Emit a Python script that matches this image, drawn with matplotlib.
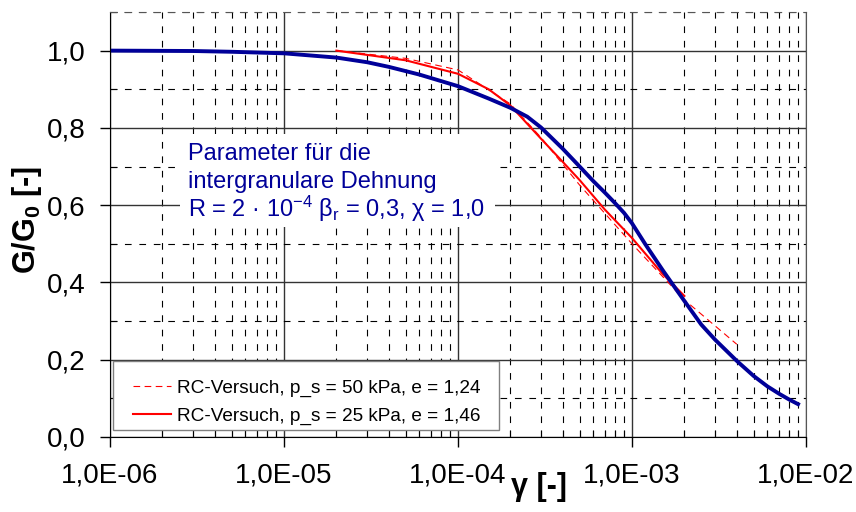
import numpy as np
import matplotlib.pyplot as plt
from matplotlib.patches import Rectangle
from matplotlib.ticker import LogLocator, MultipleLocator, NullFormatter, FuncFormatter

plt.rcParams.update({
    "font.family": ["Liberation Sans", "DejaVu Sans"],
    "mathtext.fontset": "custom",
    "mathtext.rm": "Liberation Sans",
    "mathtext.it": "Liberation Sans:italic",
    "mathtext.bf": "Liberation Sans:bold",
})

# Hypoplastic model with intergranular strain (blue)
gamma_model = [1e-6, 3e-6, 5e-6, 1e-5, 2e-5, 3e-5, 4e-5, 6e-5, 1e-4, 1.5e-4,
               2e-4, 2.5e-4, 3e-4, 4e-4, 5e-4, 6e-4, 7e-4, 8e-4, 9e-4, 1e-3,
               1.2e-3, 1.5e-3, 1.75e-3, 2e-3, 2.5e-3, 3e-3, 4e-3, 5e-3, 6e-3,
               7e-3, 8e-3, 9e-3]
g_model = [1.0, 0.999, 0.997, 0.993, 0.982, 0.970, 0.958, 0.938, 0.908, 0.876,
           0.852, 0.829, 0.801, 0.746, 0.700, 0.662, 0.632, 0.605, 0.580, 0.553,
           0.497, 0.432, 0.389, 0.352, 0.291, 0.252, 0.197, 0.158, 0.131,
           0.112, 0.097, 0.085]

# RC tests
gamma_rc50 = [2e-5, 5e-5, 1e-4, 2e-4, 3e-4, 5e-4, 1e-3, 2e-3, 4e-3]
g_rc50 = [1.0, 0.980, 0.950, 0.862, 0.775, 0.652, 0.500, 0.355, 0.240]

gamma_rc25 = [2e-5, 5e-5, 1e-4, 1.5e-4, 2e-4, 3e-4, 4e-4, 5e-4, 7e-4, 1e-3, 1.5e-3, 2e-3]
g_rc25 = [1.0, 0.975, 0.940, 0.900, 0.858, 0.772, 0.712, 0.665, 0.588, 0.515, 0.422, 0.365]

label_rc50 = "RC-Versuch, p_s = 50 kPa, e = 1,24"
label_rc25 = "RC-Versuch, p_s = 25 kPa, e = 1,46"
param_lines = ["Parameter für die",
               "intergranulare Dehnung",
               r"R = 2 · 10$\mathregular{^{-4}}$ β$\mathregular{_r}$ = 0,3, χ = 1,0"]

navy = "#000099"
dash = (0, (6, 7))

fig = plt.figure(figsize=(8.56, 5.12), dpi=100)
ax = fig.add_axes([0.1285, 0.1465, 0.8131, 0.8301])
ax.set_xscale("log")
ax.set_xlim(1e-6, 1e-2)
ax.set_ylim(0, 1.1)

ax.xaxis.set_major_locator(LogLocator(base=10, numticks=10))
ax.xaxis.set_minor_locator(LogLocator(base=10, subs=np.arange(2, 10), numticks=50))
ax.xaxis.set_minor_formatter(NullFormatter())
ax.xaxis.set_major_formatter(FuncFormatter(lambda v, p: f"{v:.1E}".replace(".", ",")))
ax.yaxis.set_major_locator(MultipleLocator(0.2))
ax.yaxis.set_minor_locator(MultipleLocator(0.1))
ax.yaxis.set_major_formatter(FuncFormatter(lambda v, p: f"{v:.1f}".replace(".", ",")))

ax.set_axisbelow(True)
ax.grid(which="major", color="#333333", lw=1.0, ls="-")
ax.grid(which="minor", color="black", lw=0.8, ls=dash)

ax.spines["top"].set_linestyle(dash)
ax.spines["top"].set_color("#555555")
ax.spines["right"].set_color("#555555")

ax.tick_params(which="major", direction="out", length=7, width=1, labelsize=20)
ax.tick_params(axis="y", which="major", pad=10.5)
ax.tick_params(axis="x", which="major", pad=11.5)
ax.tick_params(which="minor", direction="in", length=5, width=0.8)

# white box behind the parameter note
ax.add_patch(Rectangle((0.1006, 0.4941), 0.4526, 0.2188, transform=ax.transAxes,
                       facecolor="white", edgecolor="none", zorder=1))
for i, line in enumerate(param_lines):
    ax.text(0.112, 0.6518 - i * 0.0671, line, transform=ax.transAxes, color=navy,
            fontsize=17, va="baseline", ha="left", zorder=3)

ax.plot(gamma_rc50, g_rc50, color="red", lw=0.8, ls=(0, (6, 4)), label=label_rc50, zorder=2)
ax.plot(gamma_rc25, g_rc25, color="red", lw=1.5, label=label_rc25, zorder=2)
ax.plot(gamma_model, g_model, color=navy, lw=2.8, zorder=2.5)

# legend frame drawn separately so it can be wider than the entries
ax.add_patch(Rectangle((0.0043, 0.0165), 0.5546, 0.1624, transform=ax.transAxes,
                       facecolor="white", edgecolor="#808080", lw=1.0, zorder=3))
leg = ax.legend(loc="lower left", bbox_to_anchor=(0.033, 0.028), fontsize=13.7,
                frameon=False, handlelength=2.0, handletextpad=0.3,
                borderpad=0.0, borderaxespad=0.0, labelspacing=0.55)
leg.set_zorder(4)

ax.set_xlabel("γ [-]", fontsize=22, fontweight="bold")
ax.xaxis.set_label_coords(0.616, -0.082)
fig.text(27 / 856, 1 - 219.5 / 512, r"G/G$_{\mathbf{0}}$ [-]", rotation=90,
         fontsize=22, fontweight="bold", ha="center", va="center")

fig.savefig("out.png", dpi=100)
